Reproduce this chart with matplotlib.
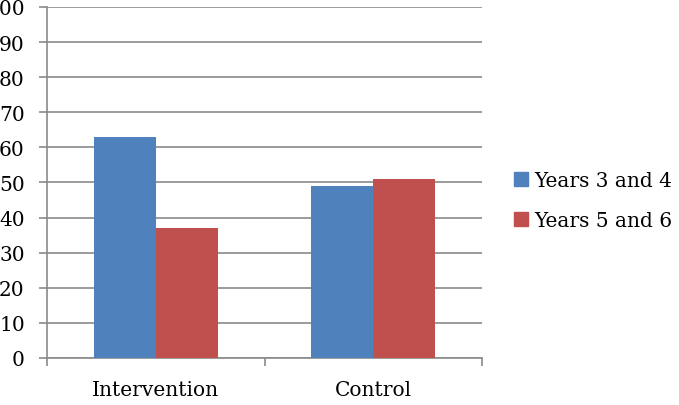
import numpy as np
import matplotlib.pyplot as plt
from matplotlib.patches import Patch

categories = ['Intervention', 'Control']
series_names = ['Years 3 and 4', 'Years 5 and 6']
years_3_4 = [63, 49]
years_5_6 = [37, 51]
colors = ['#4F81BD', '#C0504D']

plt.rcParams['font.family'] = ['DejaVu Serif']

fig = plt.figure(figsize=(6.79, 4.06), dpi=100)
ax = fig.add_axes([0.0692, 0.1158, 0.6407, 0.8645])

x = np.arange(len(categories))
w = 0.285
ax.bar(x - w / 2, years_3_4, w, color=colors[0], zorder=3)
ax.bar(x + w / 2, years_5_6, w, color=colors[1], zorder=3)

ax.set_xlim(-0.5, 1.5)
ax.set_ylim(0, 100)
ax.set_yticks(range(0, 101, 10))
ax.yaxis.grid(True, color='#8a8a8a', linewidth=1.2, zorder=0)

# category boundaries get the tick marks, names sit in between
ax.set_xticks([-0.5, 0.5, 1.5])
ax.set_xticklabels([])
ax.set_xticks(x, minor=True)
ax.set_xticklabels(categories, minor=True, fontsize=14.5)
ax.tick_params(axis='x', which='minor', length=0, pad=16)
ax.tick_params(axis='x', which='major', length=6, color='#8a8a8a', width=1.2)
ax.tick_params(axis='y', length=6, color='#8a8a8a', width=1.2, labelsize=14.5, pad=10)

for s in ['top', 'right']:
    ax.spines[s].set_visible(False)
for s in ['left', 'bottom']:
    ax.spines[s].set_color('#8a8a8a')
    ax.spines[s].set_linewidth(1.2)

handles = [Patch(color=c) for c in colors]
fig.legend(handles, series_names, loc='center left', bbox_to_anchor=(0.73, 0.503),
           frameon=False, fontsize=14.5, handlelength=0.7, handleheight=0.7,
           handletextpad=0.3, labelspacing=1.05)

fig.savefig('out.png', dpi=100)
